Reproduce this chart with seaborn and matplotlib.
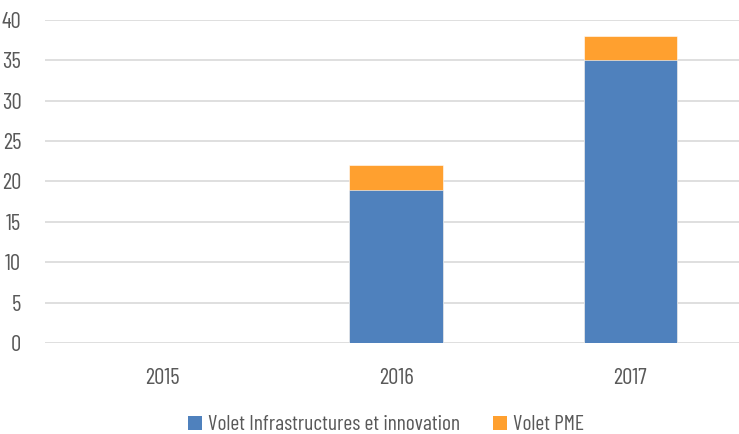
import matplotlib
matplotlib.use("Agg")
import matplotlib.pyplot as plt
import seaborn as sns
import pandas as pd
from matplotlib.patches import Patch

years = ["2015", "2016", "2017"]
infra = [0, 19, 35]
pme = [0, 3, 3]
series_names = ["Volet Infrastructures et innovation", "Volet PME"]
colors = ["#4F81BD", "#FFA02F"]
yticks = [0, 5, 10, 15, 20, 25, 30, 35, 40]

sns.set_theme(style="white")
plt.rcParams["font.family"] = ["Barlow Condensed", "DejaVu Sans"]

df = pd.DataFrame({"year": years, "infra": infra, "total": [a + b for a, b in zip(infra, pme)]})

fig = plt.figure(figsize=(7.39, 4.34), dpi=100)
ax = fig.add_axes([45 / 739, 91 / 434, 694 / 739, 323 / 434])

sns.barplot(data=df, x="year", y="total", color=colors[1], width=0.4, ax=ax,
            saturation=1, zorder=2, edgecolor="#FFFFFF", linewidth=0.4)
sns.barplot(data=df, x="year", y="infra", color=colors[0], width=0.4, ax=ax,
            saturation=1, zorder=3, edgecolor="#FFFFFF", linewidth=0.4)

ax.set_ylim(0, 40)
ax.set_xlim(-0.5, 2.464)
ax.set_yticks(yticks)
ax.yaxis.grid(True, color="#D9D9D9", linewidth=1.2, zorder=0)
ax.set_axisbelow(True)
for s in ax.spines.values():
    s.set_visible(False)
ax.set_xlabel("")
ax.set_ylabel("")
ax.tick_params(axis="both", length=0, labelsize=16.5, colors="#595959")
ax.tick_params(axis="y", pad=17)
ax.tick_params(axis="x", pad=18)

handles = [Patch(facecolor=c, edgecolor="none") for c in colors]
fig.legend(handles, series_names,
           loc="center", bbox_to_anchor=(386 / 739, 9 / 434), ncol=2, frameon=False,
           fontsize=15.5, handlelength=0.65, handleheight=0.65, handletextpad=0.3,
           columnspacing=1.5, labelcolor="#595959")

fig.savefig("out.png", dpi=100)
